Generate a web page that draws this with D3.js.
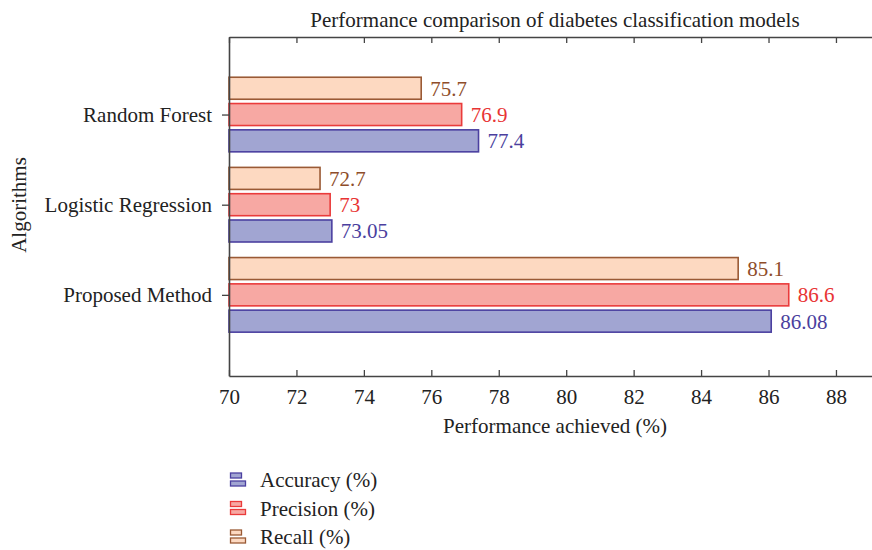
<!DOCTYPE html>
<html><head><meta charset="utf-8">
<script src="https://cdn.jsdelivr.net/npm/d3@7"></script>
<style>body{margin:0;background:#fff}svg{display:block}text{font-family:"Liberation Serif","DejaVu Serif",serif}</style>
</head><body><svg id="c" width="872" height="550"></svg>
<script>
const categories = ["Proposed Method", "Logistic Regression", "Random Forest"];
const seriesNames = ["Accuracy (%)", "Precision (%)", "Recall (%)"];
const accuracy = [86.08, 73.05, 77.4];
const precision = [86.6, 73, 76.9];
const recall = [85.1, 72.7, 75.7];
const accuracyLabels = ["86.08", "73.05", "77.4"];
const precisionLabels = ["86.6", "73", "76.9"];
const recallLabels = ["85.1", "72.7", "75.7"];
const xTicks = [70, 72, 74, 76, 78, 80, 82, 84, 86, 88];

const series = [
  {name: seriesNames[0], values: accuracy, labels: accuracyLabels, fill: "#a1a5d2", stroke: "#4b40a0", text: "#4b3f9e", off: 1},
  {name: seriesNames[1], values: precision, labels: precisionLabels, fill: "#f7a8a3", stroke: "#ea3b3b", text: "#e83434", off: 0},
  {name: seriesNames[2], values: recall, labels: recallLabels, fill: "#fdd9c1", stroke: "#9a5a35", text: "#8e4d2a", off: -1}
];

const FS = 21;
const svg = d3.select("#c");
const L = 229, R = 872, T = 37, B = 376;
const x = d3.scaleLinear().domain([70, 70 + (R - L) / 33.72]).range([L, R]);
const y = d3.scaleLinear().domain([0.1, 3.86]).range([B, T]);
const step = 26.3, bh = 22;

// bars
series.forEach(s => {
  const g = svg.append("g");
  categories.forEach((c, i) => {
    const cy = y(i + 1) + s.off * step;
    g.append("rect")
      .attr("x", x(70)).attr("y", cy - bh / 2)
      .attr("width", x(s.values[i]) - x(70)).attr("height", bh)
      .attr("fill", s.fill).attr("stroke", s.stroke).attr("stroke-width", 1.6);
    g.append("text")
      .attr("x", x(s.values[i]) + 9).attr("y", cy)
      .attr("dy", "0.35em").attr("font-size", FS).attr("fill", s.text)
      .text(s.labels[i]);
  });
});

// axes
const axisColor = "#444";
const axB = svg.append("g").attr("transform", `translate(0,${B})`)
  .call(d3.axisBottom(x).tickValues(xTicks).tickSizeInner(-6).tickSizeOuter(0).tickPadding(13).tickFormat(d3.format("d")));
const axT = svg.append("g").attr("transform", `translate(0,${T})`)
  .call(d3.axisTop(x).tickValues(xTicks).tickSizeInner(-6).tickSizeOuter(0).tickFormat(""));
const axL = svg.append("g").attr("transform", `translate(${L},0)`)
  .call(d3.axisLeft(y).tickValues([1, 2, 3]).tickSizeInner(7).tickSizeOuter(0).tickPadding(10).tickFormat(d => categories[d - 1]));
[axB, axT, axL].forEach(a => {
  a.selectAll("path").attr("stroke", axisColor).attr("stroke-width", 1.6);
  a.selectAll("line").attr("stroke", axisColor).attr("stroke-width", 1.3);
  a.selectAll("text").attr("font-size", FS).attr("fill", "#222").attr("font-family", '"Liberation Serif",serif');
});

// titles
svg.append("text").attr("x", 555).attr("y", 27).attr("text-anchor", "middle")
  .attr("font-size", FS).attr("fill", "#222").text("Performance comparison of diabetes classification models");
svg.append("text").attr("x", 555).attr("y", 433).attr("text-anchor", "middle")
  .attr("font-size", FS).attr("fill", "#222").text("Performance achieved (%)");
svg.append("text").attr("transform", "translate(26,205) rotate(-90)").attr("text-anchor", "middle")
  .attr("font-size", FS).attr("fill", "#222").text("Algorithms");

// legend
series.forEach((s, i) => {
  const ly = 480 + i * 28.5;
  const g = svg.append("g").attr("transform", `translate(230,${ly})`);
  g.append("rect").attr("x", 0.5).attr("y", -7).attr("width", 11).attr("height", 5)
    .attr("fill", s.fill).attr("stroke", s.stroke).attr("stroke-width", 1.3);
  g.append("rect").attr("x", 0.5).attr("y", 1).attr("width", 15).attr("height", 5)
    .attr("fill", s.fill).attr("stroke", s.stroke).attr("stroke-width", 1.3);
  g.append("text").attr("x", 30).attr("y", 0).attr("dy", "0.35em")
    .attr("font-size", FS).attr("fill", "#222").text(s.name);
});
</script></body></html>
